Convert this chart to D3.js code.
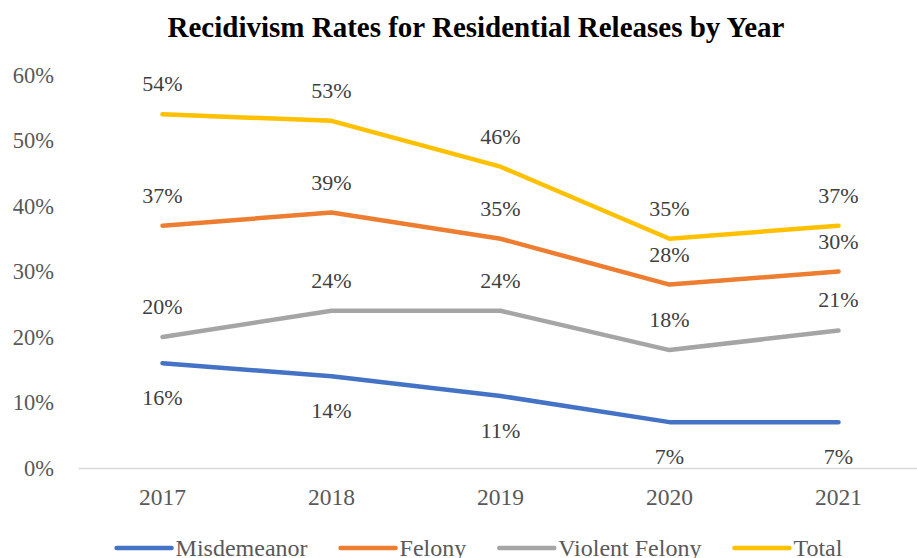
<!DOCTYPE html>
<html>
<head>
<meta charset="utf-8">
<script src="https://cdn.jsdelivr.net/npm/d3@7/dist/d3.min.js"></script>
<style>
  html, body { margin: 0; padding: 0; background: #fff; }
  svg { display: block; }
  svg text { font-family: "Liberation Serif", "Times New Roman", serif !important; }
</style>
</head>
<body>
<svg id="chart" width="917" height="558"></svg>
<script>
// Recidivism rates (%) by release year
const years = ["2017", "2018", "2019", "2020", "2021"];
const misdemeanor = [16, 14, 11, 7, 7];
const felony = [37, 39, 35, 28, 30];
const violentFelony = [20, 24, 24, 18, 21];
const total = [54, 53, 46, 35, 37];
const yTicks = [0, 10, 20, 30, 40, 50, 60];

const series = [
  { name: "Misdemeanor", values: misdemeanor, color: "#4472C4", labelPos: "below" },
  { name: "Felony", values: felony, color: "#ED7D31", labelPos: "above" },
  { name: "Violent Felony", values: violentFelony, color: "#A5A5A5", labelPos: "above" },
  { name: "Total", values: total, color: "#FFC000", labelPos: "above" }
];

const serif = '"Liberation Serif", "Times New Roman", serif';
const svg = d3.select("#chart");

const x = d3.scaleBand().domain(years).range([78, 923]);
const y = d3.scaleLinear().domain([0, 60]).range([468, 75]);
const cx = d => x(d) + x.bandwidth() / 2;

// Title
svg.append("text")
  .attr("x", 476).attr("y", 37)
  .attr("text-anchor", "middle")
  .attr("font-size", 29).attr("font-weight", "bold")
  .attr("fill", "#000")
  .style("font-family", serif)
  .text("Recidivism Rates for Residential Releases by Year");

// Y axis tick labels (no axis line)
const yAxis = svg.append("g").attr("transform", "translate(54,0)")
  .call(d3.axisLeft(y).tickValues(yTicks).tickFormat(d => d + "%").tickSize(0).tickPadding(0));
yAxis.attr("font-family", null);
yAxis.select(".domain").remove();
yAxis.selectAll("text")
  .style("font-family", serif)
  .attr("font-size", 22.5).attr("fill", "#595959")
  .attr("dy", "0.33em");

// X axis
const xAxis = svg.append("g").attr("transform", "translate(0,468)")
  .call(d3.axisBottom(x).tickSize(0).tickPadding(0));
xAxis.attr("font-family", null);
xAxis.select(".domain").attr("stroke", "#d9d9d9").attr("stroke-width", 1.5);
xAxis.selectAll("text")
  .style("font-family", serif)
  .attr("font-size", 23.5).attr("fill", "#595959")
  .attr("dy", 0).attr("y", 37);

// Lines
const line = d3.line().x((d, i) => cx(years[i])).y(d => y(d));
svg.append("g").selectAll("path").data(series).join("path")
  .attr("d", s => line(s.values))
  .attr("fill", "none")
  .attr("stroke", s => s.color)
  .attr("stroke-width", 4.5)
  .attr("stroke-linecap", "round")
  .attr("stroke-linejoin", "round");

// Data labels
series.forEach(s => {
  svg.append("g").selectAll("text").data(s.values).join("text")
    .attr("x", (d, i) => cx(years[i]))
    .attr("y", d => y(d) + (s.labelPos === "above" ? -23 : 42))
    .attr("text-anchor", "middle")
    .attr("font-size", 22).attr("fill", "#404040")
    .style("font-family", serif)
    .text(d => d + "%");
});

// Legend
const legend = svg.append("g").attr("transform", "translate(0,548)");
const items = legend.selectAll("g").data(series).join("g");
items.append("line")
  .attr("x1", 0).attr("x2", 55).attr("y1", 0).attr("y2", 0)
  .attr("stroke", s => s.color).attr("stroke-width", 4.5)
  .attr("stroke-linecap", "round");
items.append("text")
  .attr("x", 59).attr("y", 7.5)
  .attr("font-size", 24).attr("fill", "#595959")
  .style("font-family", serif)
  .text(s => s.name);
const widths = [];
items.each(function () {
  widths.push(59 + this.querySelector("text").getComputedTextLength());
});
const gap = 33;
const totalW = d3.sum(widths) + gap * (widths.length - 1);
let offset = 479.5 - totalW / 2;
items.attr("transform", (s, i) => {
  const t = "translate(" + offset + ",0)";
  offset += widths[i] + gap;
  return t;
});
</script>
</body>
</html>
